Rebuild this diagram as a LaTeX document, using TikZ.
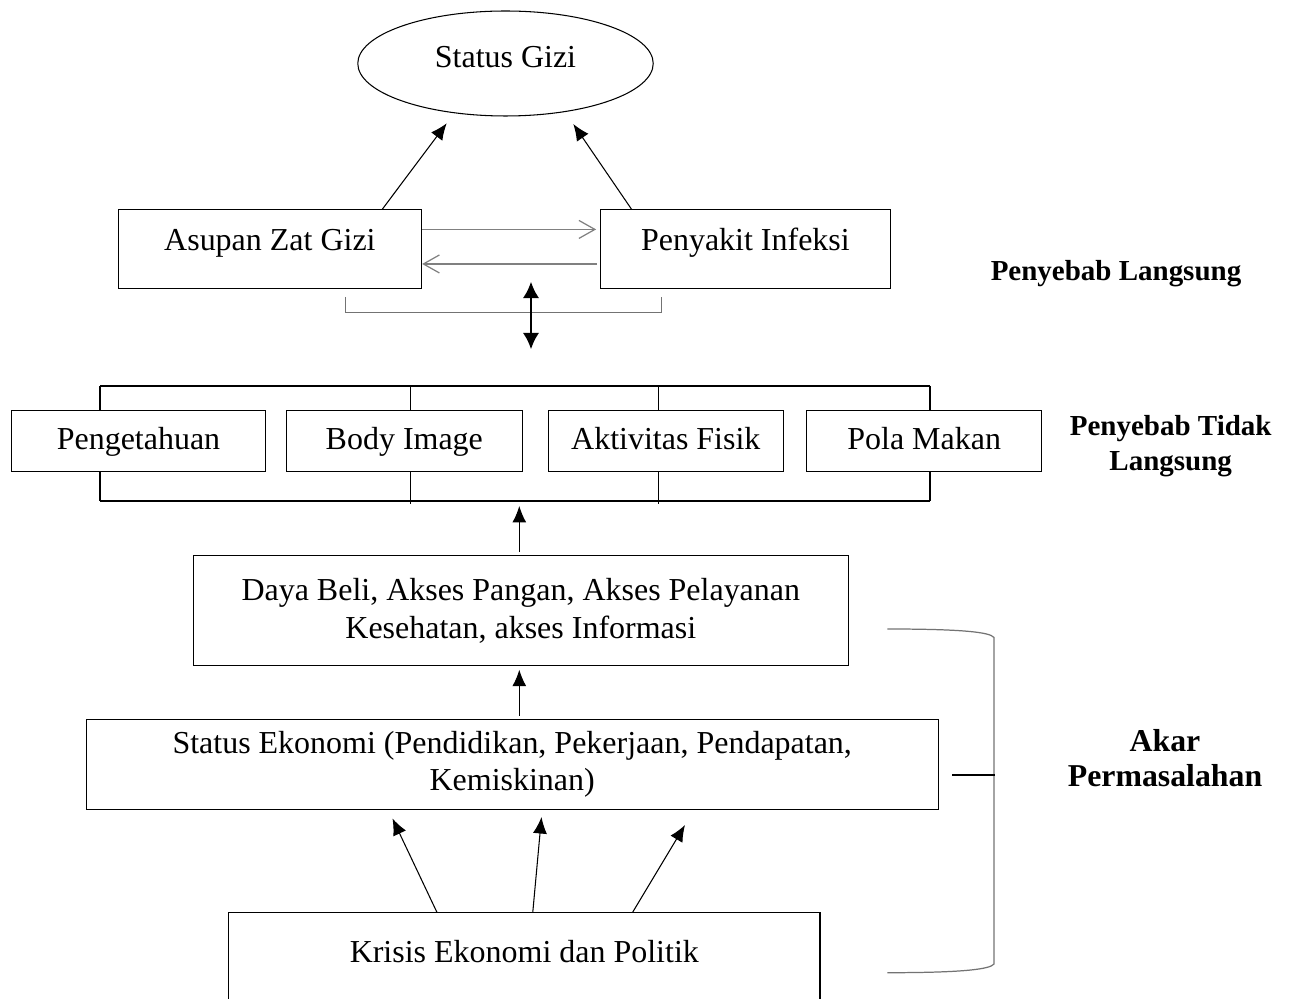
\documentclass[tikz,border=0pt]{standalone}
\usepackage{fontspec}
\setmainfont{Liberation Serif}
\usetikzlibrary{arrows.meta,shapes.geometric}
\begin{document}
\begin{tikzpicture}[x=0.02cm, y=-0.02cm, line width=0.6pt,
        >={Latex[length=3.3mm,width=2.8mm]},
        kotak/.style={draw, rectangle, inner sep=0pt, align=center, font=\fontsize{18.2}{21.5}\selectfont},
        naik/.style={text height=13pt, text depth=11.2pt},
        faktor/.style={kotak, minimum height=1.22cm, text height=13pt, text depth=4pt},
        judul/.style={align=center, font=\fontsize{16.5}{19.8}\selectfont\bfseries},
        kurung/.style={draw=black!55, line width=0.7pt},
        barb/.style={draw=black!50, line width=0.7pt, -{Straight Barb[length=3.2mm,width=3.6mm]}}]
        \useasboundingbox (0,0) rectangle (1294,999);
        \clip (0,0) rectangle (1294,999);

        % penyebab langsung
        \node[kotak, ellipse, minimum width=5.91cm, minimum height=2.1cm, text height=13pt, text depth=8.4pt] (gizi) at (505.5,63.5) {Status Gizi};
        \node[kotak, naik, minimum width=6.07cm, minimum height=1.57cm] (asupan) at (269.9,249.2) {Asupan Zat Gizi};
        \node[kotak, naik, minimum width=5.79cm, minimum height=1.57cm] (infeksi) at (745.4,249.2) {Penyakit Infeksi};
        \coordinate (t1) at (446.7,123.3);
        \coordinate (t2) at (573.3,124);
        \draw[->] ([xshift=-0.8cm]asupan.north east) -- (t1);
        \draw[->] ([xshift=0.63cm]infeksi.north west) -- (t2);
        \draw[barb, shorten >=0.08cm] ([yshift=-0.4cm]asupan.north east) -- ([yshift=-0.4cm]infeksi.north west);
        \draw[barb, shorten <=0.06cm] ([yshift=0.5cm]infeksi.south west) -- ([yshift=0.5cm]asupan.south east);
        \draw[kurung] (345.7,297) |- (661.7,312.7) -- (661.7,297);
        \coordinate (atas) at (531,281.7);
        \coordinate (bawah) at (531,349.3);
        \draw[<->, line width=1.4pt, >={Latex[length=3.3mm,width=3.3mm]}] (atas) -- (bawah);
        \node[judul] (langsung) at (1116,274) {Penyebab Langsung};

        % penyebab tidak langsung
        \node[faktor, minimum width=5.07cm] (tahu) at (138.5,441.2) {Pengetahuan};
        \node[faktor, minimum width=4.71cm] (body) at (404.3,441.2) {Body Image};
        \node[faktor, minimum width=4.7cm] (fisik) at (665.8,441.2) {Aktivitas Fisik};
        \node[faktor, minimum width=4.7cm] (pola) at (924.2,441.2) {Pola Makan};
        \draw (100,386) -- (930,386);
        \draw (100,501) -- (930,501);
        \foreach \x in {100,410.7,658.3,930}
            \draw (\x,386) -- (\x,410.7);
        \foreach \x/\y in {100/501,410.7/504,658.3/504,930/501}
            \draw (\x,471.7) -- (\x,\y);
        \node[judul] (tidak) at (1170.7,446.5) {Penyebab Tidak\\Langsung};

        % akar permasalahan
        \node[kotak, minimum width=13.1cm, minimum height=2.2cm] (daya) at (520.8,610.7) {Daya Beli, Akses Pangan, Akses Pelayanan\\Kesehatan, akses Informasi};
        \node[kotak, minimum width=17.05cm, minimum height=1.8cm] (ekonomi) at (512.2,764.4) {Status Ekonomi (Pendidikan, Pekerjaan, Pendapatan,\\Kemiskinan)};
        \node[kotak, naik, minimum width=11.83cm, minimum height=1.95cm] (krisis) at (524.3,961.3) {Krisis Ekonomi dan Politik};
        \coordinate (k1) at (519.3,506);
        \draw[->, shorten <=0.06cm] (daya.north -| k1) -- (k1);
        \draw[->, shorten <=0.06cm, shorten >=0.07cm] (ekonomi.north -| k1) -- (daya.south -| k1);
        \coordinate (e1) at (392.5,818.5);
        \coordinate (e2) at (541.5,817);
        \coordinate (e3) at (685,825);
        \draw[->] ([xshift=-1.75cm]krisis.north) -- (e1);
        \draw[->] ([xshift=0.17cm]krisis.north) -- (e2);
        \draw[->] ([xshift=2.17cm]krisis.north) -- (e3);
        \draw[kurung] (887.3,629) .. controls (960,629) and (990,632) .. (994,637.5) -- (994,964)
            .. controls (990,969.5) and (960,972.7) .. (887.3,972.7);
        \draw (952,775) -- (995,775);
        \node[judul, font=\fontsize{18.1}{19.8}\selectfont\bfseries] (akar) at (1165,758) {Akar\\Permasalahan};
\end{tikzpicture}
\end{document}
